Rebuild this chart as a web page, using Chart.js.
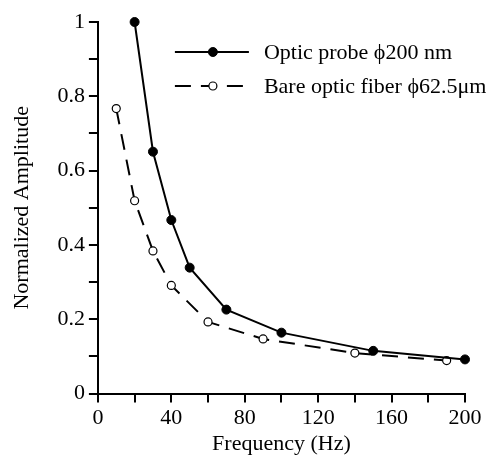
<!DOCTYPE html>
<html>
<head>
<meta charset="utf-8">
<script src="https://cdn.jsdelivr.net/npm/chart.js@4.4.0/dist/chart.umd.min.js"></script>
<style>
  html, body { margin: 0; padding: 0; background: #fff; }
  #wrap { width: 491px; height: 455px; }
</style>
</head>
<body>
<div id="wrap"><canvas id="canvas" width="491" height="455"></canvas></div>
<script>
// values
var probeFreq = [20, 30, 40, 50, 70, 100, 150, 200];
var probeAmp = [1.0, 0.651, 0.467, 0.339, 0.226, 0.164, 0.115, 0.092];
var fiberFreq = [10, 20, 30, 40, 60, 90, 140, 190];
var fiberAmp = [0.767, 0.519, 0.384, 0.291, 0.193, 0.147, 0.109, 0.089];
var seriesNames = ['Optic probe \u03D5200 nm', 'Bare optic fiber \u03D562.5\u03BCm'];
var xLabels = [0, 40, 80, 120, 160, 200];
var yLabels = [0, 0.2, 0.4, 0.6, 0.8, 1];

var FONT = '"Liberation Serif", "Times New Roman", serif';

function pairs(xs, ys) {
    var out = [];
    for (var i = 0; i < xs.length; i++) out.push({x: xs[i], y: ys[i]});
    return out;
}

// legend drawn inside the plot, top right
var innerLegend = {
    id: 'innerLegend',
    afterDraw: function(chart) {
        var c = chart.ctx, a = chart.chartArea;
        var x0 = a.left + 77, x1 = a.left + 151, tx = a.left + 166;
        var rows = [a.top + 30, a.top + 64];
        chart.data.datasets.forEach(function(ds, i) {
            var y = rows[i];
            c.save();
            c.strokeStyle = '#000';
            c.lineWidth = 2;
            c.setLineDash(ds.borderDash || []);
            c.beginPath();
            c.moveTo(x0, y);
            c.lineTo(x1, y);
            c.stroke();
            c.setLineDash([]);
            c.beginPath();
            c.arc((x0 + x1) / 2 + 1, y, ds.pointRadius, 0, Math.PI * 2);
            c.fillStyle = ds.pointBackgroundColor;
            c.fill();
            c.lineWidth = ds.pointBorderWidth;
            c.stroke();
            c.fillStyle = '#000';
            c.font = '22px ' + FONT;
            c.textBaseline = 'middle';
            c.fillText(seriesNames[i], tx, y + 1);
            c.restore();
        });
    }
};

var ctx = document.getElementById('canvas').getContext('2d');
var chart = new Chart(ctx, {
    type: 'line',
    data: {
        datasets: [{
            label: seriesNames[0],
            data: pairs(probeFreq, probeAmp),
            borderColor: '#000',
            borderWidth: 2,
            pointRadius: 4.5,
            pointBackgroundColor: '#000',
            pointBorderColor: '#000',
            pointBorderWidth: 1,
            tension: 0,
            clip: false
        }, {
            label: seriesNames[1],
            data: pairs(fiberFreq, fiberAmp),
            borderColor: '#000',
            borderWidth: 2,
            borderDash: [16, 10],
            pointRadius: 4,
            pointBackgroundColor: '#fff',
            pointBorderColor: '#000',
            pointBorderWidth: 1.2,
            tension: 0,
            clip: false
        }]
    },
    options: {
        responsive: false,
        animation: false,
        events: [],
        layout: { padding: { left: 9, right: 26, top: 22, bottom: 0 } },
        plugins: {
            legend: { display: false },
            tooltip: { enabled: false }
        },
        scales: {
            x: {
                type: 'linear',
                min: 0,
                max: 200,
                ticks: {
                    stepSize: 20,
                    color: '#000',
                    font: { family: FONT, size: 22 },
                    maxRotation: 0,
                    autoSkip: false,
                    padding: 2,
                    callback: function(v) { return xLabels.indexOf(v) >= 0 ? String(v) : ''; }
                },
                grid: { drawOnChartArea: false, drawTicks: true, tickLength: 9, color: '#000', lineWidth: 2 },
                border: { color: '#000', width: 2 },
                title: { display: true, text: 'Frequency (Hz)', color: '#000', font: { family: FONT, size: 22, lineHeight: 1.0 }, padding: { top: 0, bottom: 0 } }
            },
            y: {
                min: 0,
                max: 1,
                ticks: {
                    stepSize: 0.1,
                    color: '#000',
                    font: { family: FONT, size: 22 },
                    autoSkip: false,
                    padding: 4,
                    callback: function(v) {
                        var r = Math.round(v * 10) / 10;
                        return yLabels.indexOf(r) >= 0 ? String(r) : '';
                    }
                },
                grid: { drawOnChartArea: false, drawTicks: true, tickLength: 9, color: '#000', lineWidth: 2 },
                border: { color: '#000', width: 2 },
                title: { display: true, text: 'Normalized Amplitude', color: '#000', font: { family: FONT, size: 22 }, padding: { top: 0, bottom: 18 } }
            }
        }
    },
    plugins: [innerLegend]
});
</script>
</body>
</html>
